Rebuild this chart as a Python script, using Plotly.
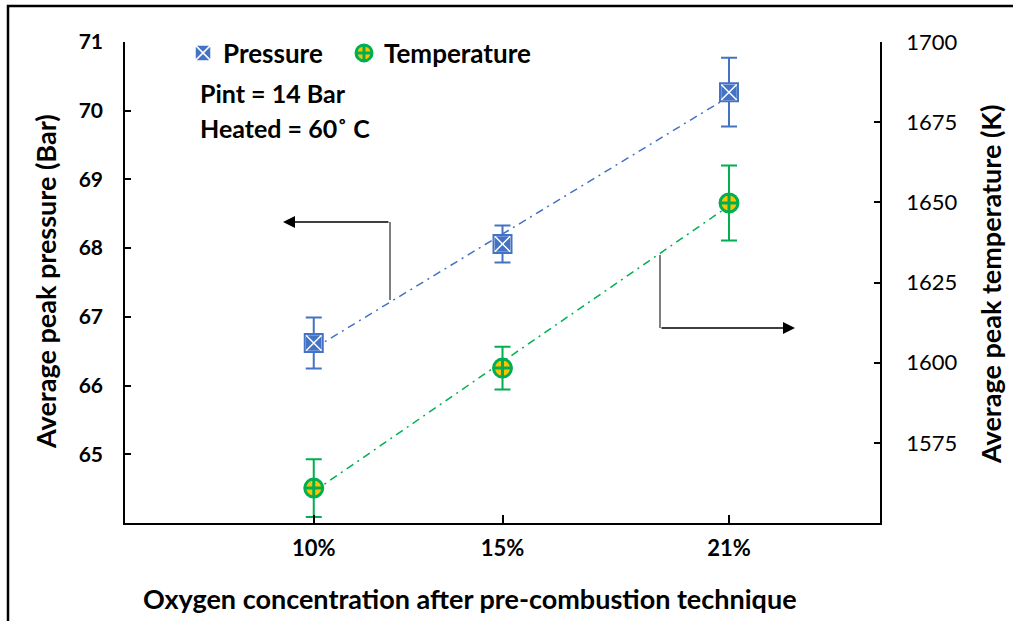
import numpy as np
import plotly.graph_objects as go

# ---- data ----
oxygen = [10, 15, 21]
oxygen_labels = ["10%", "15%", "21%"]
pressure = [66.62, 68.06, 70.27]
pressure_err = [0.37, 0.27, 0.50]
temperature = [1560.9, 1598.3, 1649.8]
temperature_err = [9.0, 6.7, 11.7]
pressure_ticks = [65, 66, 67, 68, 69, 70, 71]
temperature_ticks = [1575, 1600, 1625, 1650, 1675, 1700]

BLUE = "#4472C4"
GREEN = "#00B050"
YELLOW = "#FFC000"
FONT = "Lato"

W, H = 1013, 621
L, R, T, B = 125, 133, 42, 98
pw, ph = W - L - R, H - T - B

def px_x(p):
    return (p - L) / pw

def px_y(p):
    return (H - B - p) / ph

fig = go.Figure()

# trendlines (linear fit of the data)
xs = np.array([oxygen[0], oxygen[-1]], dtype=float)
cp = np.polyfit(oxygen, pressure, 1)
ct = np.polyfit(oxygen, temperature, 1)
fig.add_trace(go.Scatter(x=xs, y=np.polyval(cp, xs), mode="lines",
                         line=dict(color=BLUE, width=1.5, dash="8px,5px,2px,5px"),
                         showlegend=False, hoverinfo="skip"))
fig.add_trace(go.Scatter(x=xs, y=np.polyval(ct, xs), mode="lines", yaxis="y2",
                         line=dict(color=GREEN, width=1.5, dash="8px,5px,2px,5px"),
                         showlegend=False, hoverinfo="skip"))

# pressure points
fig.add_trace(go.Scatter(
    x=oxygen, y=pressure, mode="markers", name="<b>Pressure</b>", legend="legend",
    error_y=dict(type="data", array=pressure_err, color=BLUE, thickness=2, width=8),
    marker=dict(symbol="square-x", size=17, color=BLUE,
                line=dict(color="white", width=1.5)),
))
fig.add_trace(go.Scatter(
    x=oxygen, y=pressure, mode="markers", showlegend=False, hoverinfo="skip",
    marker=dict(symbol="square-open", size=18, color=BLUE, line=dict(color=BLUE, width=2)),
))

# temperature points
fig.add_trace(go.Scatter(
    x=oxygen, y=temperature, mode="markers", name="<b>Temperature</b>", yaxis="y2",
    legend="legend2",
    error_y=dict(type="data", array=temperature_err, color=GREEN, thickness=2, width=8),
    marker=dict(symbol="circle-cross", size=18, color=YELLOW,
                line=dict(color=GREEN, width=3)),
))

title_font = dict(family=FONT, size=27, color="black")
ann = []
ann.append(dict(text="<b>Pint = 14 Bar</b>", xref="paper", yref="paper",
                x=px_x(198), y=px_y(93), xanchor="left", yanchor="middle",
                showarrow=False, font=dict(family=FONT, size=25, color="black")))
ann.append(dict(text="<b>Heated = 60˚ C</b>", xref="paper", yref="paper",
                x=px_x(198), y=px_y(128), xanchor="left", yanchor="middle",
                showarrow=False, font=dict(family=FONT, size=25, color="black")))
# axis titles
ann.append(dict(text="<b>Oxygen concentration after pre-combustion technique</b>",
                xref="paper", yref="paper", x=px_x(470), y=px_y(598),
                xanchor="center", yanchor="middle", showarrow=False, font=title_font))
ann.append(dict(text="<b>Average peak pressure (Bar)</b>", textangle=-90,
                xref="paper", yref="paper", x=px_x(45), y=px_y(282),
                xanchor="center", yanchor="middle", showarrow=False, font=title_font))
ann.append(dict(text="<b>Average peak temperature (K)</b>", textangle=-90,
                xref="paper", yref="paper", x=px_x(990), y=px_y(285),
                xanchor="center", yanchor="middle", showarrow=False, font=title_font))

# arrows (in data coords of x / pressure axis)
def dx(p):
    return 5 + (p - L) * 20 / pw

def dy(p):
    return 71 - (p - T) * 7 / ph

ann.append(dict(x=dx(283), y=dy(222), ax=dx(390), ay=dy(222), xref="x", yref="y",
                axref="x", ayref="y", text="", showarrow=True, arrowhead=2,
                arrowsize=1.6, arrowwidth=1.5, arrowcolor="black"))
ann.append(dict(x=dx(795), y=dy(328), ax=dx(660), ay=dy(328), xref="x", yref="y",
                axref="x", ayref="y", text="", showarrow=True, arrowhead=2,
                arrowsize=1.6, arrowwidth=1.5, arrowcolor="black"))

shapes = [
    dict(type="line", xref="x", yref="y", x0=dx(390), x1=dx(390), y0=dy(300), y1=dy(222),
         line=dict(color="#555555", width=1.5)),
    dict(type="line", xref="x", yref="y", x0=dx(660), x1=dx(660), y0=dy(255), y1=dy(328),
         line=dict(color="#555555", width=1.5)),
    # figure border
    dict(type="rect", xref="paper", yref="paper", x0=px_x(8), x1=px_x(1030),
         y0=px_y(640), y1=px_y(6), line=dict(color="black", width=2.5)),
]

leg_common = dict(orientation="h", yanchor="middle", xanchor="left",
                  font=dict(family=FONT, size=26, color="black"),
                  bgcolor="rgba(0,0,0,0)", itemsizing="trace")

fig.update_layout(
    width=W, height=H,
    margin=dict(l=L, r=R, t=T, b=B),
    paper_bgcolor="white", plot_bgcolor="white",
    font=dict(family=FONT, color="black"),
    showlegend=True,
    legend=dict(x=px_x(183), y=px_y(53), **leg_common),
    legend2=dict(x=px_x(344), y=px_y(53), **leg_common),
    xaxis=dict(range=[5, 25], tickvals=oxygen, ticktext=[f"<b>{t}</b>" for t in oxygen_labels],
               ticks="inside", ticklen=8, tickcolor="black", tickwidth=1.5,
               showline=True, linecolor="black", linewidth=2, showgrid=False, zeroline=False,
               tickfont=dict(family=FONT, size=22, color="black"), ticklabelstandoff=5),
    yaxis=dict(range=[64, 71], tickvals=pressure_ticks,
               ticktext=[f"<b>{t}</b>" for t in pressure_ticks],
               ticks="inside", ticklen=6, tickcolor="black", tickwidth=1.5,
               showline=True, linecolor="black", linewidth=1.5, showgrid=False, zeroline=False,
               tickfont=dict(family=FONT, size=21, color="black"), ticklabelstandoff=16),
    yaxis2=dict(range=[1550, 1700], tickvals=temperature_ticks,
                ticktext=[str(t) for t in temperature_ticks],
                overlaying="y", side="right",
                ticks="inside", ticklen=6, tickcolor="black", tickwidth=1.5,
                showline=True, linecolor="black", linewidth=1.5, showgrid=False, zeroline=False,
                tickfont=dict(family=FONT, size=22, color="black"), ticklabelstandoff=20),
    annotations=ann,
    shapes=shapes,
)

fig.write_html("out.html")
